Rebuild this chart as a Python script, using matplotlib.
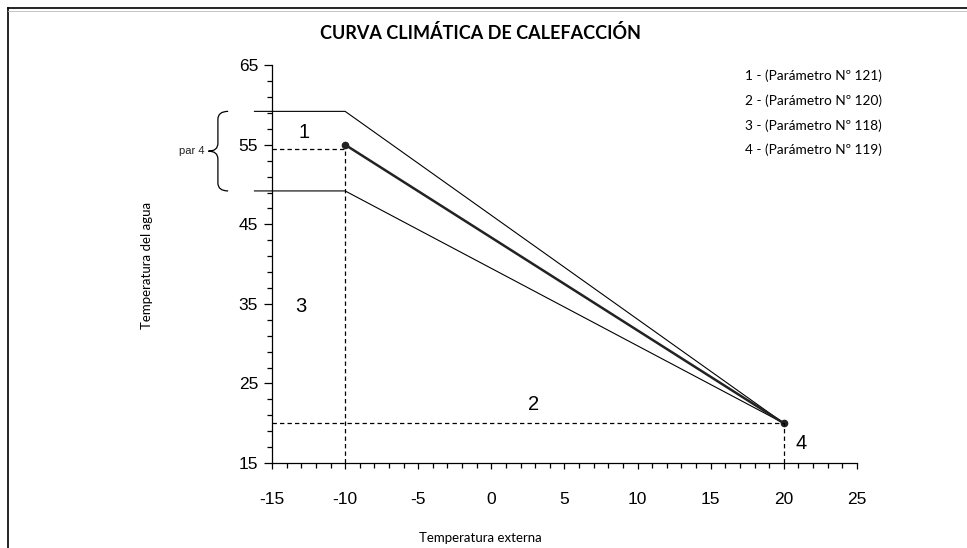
import numpy as np
import matplotlib
matplotlib.use("Agg")
import matplotlib.pyplot as plt
from matplotlib.path import Path
from matplotlib.patches import PathPatch
from matplotlib.lines import Line2D

# data
curve_x = [-10, 20]
curve_y = [55, 20]
upper_x = [-16.2, -10, 20]
upper_y = [59.2, 59.2, 20]
lower_x = [-16.2, -10, 20]
lower_y = [49.2, 49.2, 20]
ref_low_y = 54.5
legend_lines = ["1 - (Parámetro Nº 121)", "2 - (Parámetro Nº 120)",
                "3 - (Parámetro Nº 118)", "4 - (Parámetro Nº 119)"]
xticks = [-15, -10, -5, 0, 5, 10, 15, 20, 25]
yticks = [15, 25, 35, 45, 55, 65]

plt.rcParams['font.family'] = ['Liberation Sans', 'DejaVu Sans']
plt.rcParams['axes.unicode_minus'] = False

fig = plt.figure(figsize=(9.67, 5.48), dpi=100)
ax = fig.add_axes([0.2813, 0.155, 0.8862 - 0.2813, 0.881 - 0.155])
ax.set_xlim(-15, 25)
ax.set_ylim(15, 65)

ax.plot(upper_x, upper_y, color="black", lw=0.8, clip_on=False)
ax.plot(lower_x, lower_y, color="black", lw=0.8, clip_on=False)
ax.plot(curve_x, curve_y, color="#222222", lw=1.8, marker="o", ms=4.5, clip_on=False)

# dashed guides
ax.plot([-15, -10, -10], [ref_low_y, ref_low_y, 15], color="black", lw=0.9,
        ls=(0, (3.5, 2.5)), clip_on=False)
ax.plot([-15, 20, 20], [20, 20, 15], color="black", lw=0.9,
        ls=(0, (3.5, 2.5)), clip_on=False)

ax.text(-12.8, 56.6, "1", fontsize=14.5, ha="center", va="center")
ax.text(2.9, 22.4, "2", fontsize=14.5, ha="center", va="center")
ax.text(-13.0, 34.7, "3", fontsize=14.5, ha="center", va="center")
ax.text(21.2, 17.5, "4", fontsize=14.5, ha="center", va="center")

# brace for par 4
xe, xm, xt = -18.0, -18.7, -19.35
yt, yb = upper_y[0], lower_y[0]
yc = (yt + yb) / 2
r = 1.0
verts = [(xe, yt), (xm, yt), (xm, yt - r), (xm, yc + r), (xm, yc), (xt, yc),
         (xm, yc), (xm, yc - r), (xm, yb + r), (xm, yb), (xe, yb)]
codes = [Path.MOVETO, Path.CURVE3, Path.CURVE3, Path.LINETO, Path.CURVE3, Path.CURVE3,
         Path.CURVE3, Path.CURVE3, Path.LINETO, Path.CURVE3, Path.CURVE3]
ax.add_patch(PathPatch(Path(verts, codes), fill=False, lw=0.9, color="black", clip_on=False))
ax.text(xt - 0.25, yc, "par 4", fontsize=8, ha="right", va="center", color="#222222")

for i, s in enumerate(legend_lines):
    fig.text(745 / 967, 1 - (76 + i * 24.7) / 548, s, fontsize=9.8,
             family=["Lato", "DejaVu Sans"], ha="left", va="center")

ax.spines["top"].set_visible(False)
ax.spines["right"].set_visible(False)
ax.spines["left"].set_linewidth(0.9)
ax.spines["bottom"].set_linewidth(0.9)
ax.set_xticks(xticks)
ax.set_yticks(yticks)
ax.set_xticks(np.arange(-15, 26, 1), minor=True)
ax.set_yticks(np.arange(15, 66, 2), minor=True)
ax.tick_params(axis="x", which="major", length=4, width=0.9, pad=17, labelsize=12.5)
ax.tick_params(axis="x", which="minor", length=3.5, width=0.9)
ax.tick_params(axis="y", which="major", length=6, width=0.9, pad=4, labelsize=12.5)
ax.tick_params(axis="y", which="minor", length=3.5, width=0.9)

fig.text(0.1515, 0.516, "Temperatura del agua", rotation=90, fontsize=9.5,
         family=["Lato", "DejaVu Sans"], ha="center", va="center")
fig.text(0.4965, 0.018, "Temperatura externa", fontsize=9.5,
         family=["Lato", "DejaVu Sans"], ha="center", va="center")
fig.text(0.4965, 0.940, "CURVA CLIMÁTICA DE CALEFACCIÓN", fontsize=13, fontweight="bold",
         family=["Lato", "DejaVu Sans"], ha="center", va="center")

# outer frame
fig.add_artist(Line2D([0.0085, 0.0085], [0.0, 0.985], color="black", lw=1.2))
fig.add_artist(Line2D([0.0085, 1.0], [0.985, 0.985], color="black", lw=1.2))
fig.add_artist(Line2D([0.0085, 1.0], [0.9795, 0.9795], color="#bbbbbb", lw=0.6))

fig.savefig("out.png", dpi=100)
